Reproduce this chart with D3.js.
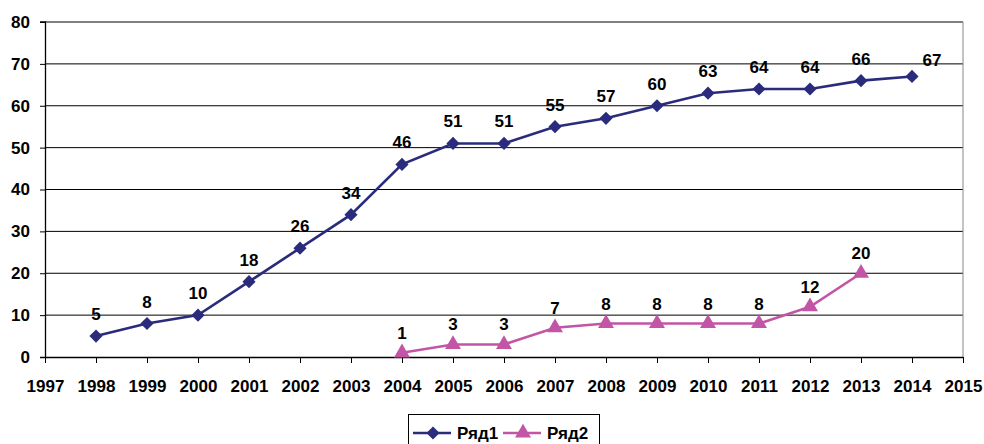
<!DOCTYPE html>
<html><head><meta charset="utf-8">
<script src="https://cdn.jsdelivr.net/npm/d3@7"></script>
<style>body{margin:0;background:#fff}svg{display:block}text{font-family:Arial,"Liberation Sans",sans-serif;font-weight:bold;fill:#000}</style>
</head><body><svg id="c" width="984" height="444"></svg>
<script>
const years1 = [1998,1999,2000,2001,2002,2003,2004,2005,2006,2007,2008,2009,2010,2011,2012,2013,2014];
const values1 = [5,8,10,18,26,34,46,51,51,55,57,60,63,64,64,66,67];
const years2 = [2004,2005,2006,2007,2008,2009,2010,2011,2012,2013];
const values2 = [1,3,3,7,8,8,8,8,12,20];
const xTicks = d3.range(1997, 2016);
const yTicks = [0,10,20,30,40,50,60,70,80];
const seriesNames = ["Ряд1","Ряд2"];
const colors = ["#2b2b7d","#c255a6"];

const FS = 17;
const svg = d3.select("#c");
const L=45, R=963, T=22, B=357;
const x = d3.scaleLinear().domain([1997,2015]).range([L,R]);
const y = d3.scaleLinear().domain([0,80]).range([B,T]);

svg.append("g").selectAll("line").data(yTicks.filter(d=>d>0)).join("line")
  .attr("x1",L).attr("x2",R).attr("y1",d=>y(d)).attr("y2",d=>y(d))
  .attr("stroke","#000").attr("stroke-width",1);
svg.append("line").attr("x1",R).attr("x2",R).attr("y1",T).attr("y2",B).attr("stroke","#888");

const yAxis = svg.append("g").attr("transform",`translate(${L},0)`)
  .call(d3.axisLeft(y).tickValues(yTicks).tickSize(5).tickPadding(10));
const xAxis = svg.append("g").attr("transform",`translate(0,${B})`)
  .call(d3.axisBottom(x).tickValues(xTicks).tickFormat(d3.format("d")).tickSize(6).tickPadding(17));
[yAxis,xAxis].forEach(a=>{
  a.select(".domain").attr("stroke","#000").attr("stroke-width",1.3);
  a.selectAll(".tick line").attr("stroke","#000");
  a.selectAll("text").attr("font-size",FS).attr("font-family","Arial, 'Liberation Sans', sans-serif").attr("font-weight","bold").attr("fill","#000");
});
yAxis.select(".domain").attr("d",`M-5,${B+0.5}H0.5V${T}H-5`);
xAxis.select(".domain").attr("d",`M${L},0.5H${R}`);

const diamond = d3.symbol().type(d3.symbolDiamond2 || d3.symbolDiamond).size(110);
const tri = d3.symbol().type(d3.symbolTriangle).size(110);

function drawSeries(xs, vs, color, sym, labelDy){
  const pts = xs.map((d,i)=>[d,vs[i]]);
  svg.append("path").datum(pts)
    .attr("d", d3.line().x(d=>x(d[0])).y(d=>y(d[1])))
    .attr("fill","none").attr("stroke",color).attr("stroke-width",2.6);
  svg.append("g").selectAll("path").data(pts).join("path")
    .attr("transform",d=>`translate(${x(d[0])},${y(d[1])})`)
    .attr("d",sym).attr("fill",color);
  svg.append("g").selectAll("text").data(pts).join("text")
    .attr("x",d=>x(d[0]) + (d[0]===2014 && vs===values1 ? 20 : 0))
    .attr("y",d=>y(d[1]) + (d[0]===2014 && vs===values1 ? -10 : labelDy))
    .attr("text-anchor","middle").attr("font-size",FS)
    .text(d=>d[1]);
}
drawSeries(years1, values1, colors[0], diamond, -16);
drawSeries(years2, values2, colors[1], tri, -14);

const lg = svg.append("g");
lg.append("rect").attr("x",408.5).attr("y",414.5).attr("width",191).attr("height",40)
  .attr("fill","#fff").attr("stroke","#000");
const items = [{x:413, name:seriesNames[0], color:colors[0], sym:diamond},
               {x:503, name:seriesNames[1], color:colors[1], sym:tri}];
items.forEach(it=>{
  lg.append("line").attr("x1",it.x).attr("x2",it.x+38).attr("y1",433).attr("y2",433)
    .attr("stroke",it.color).attr("stroke-width",2.6);
  lg.append("path").attr("transform",`translate(${it.x+20},433)`).attr("d",it.sym).attr("fill",it.color);
  lg.append("text").attr("x",it.x+44).attr("y",439).attr("font-size",FS).text(it.name);
});
</script></body></html>
